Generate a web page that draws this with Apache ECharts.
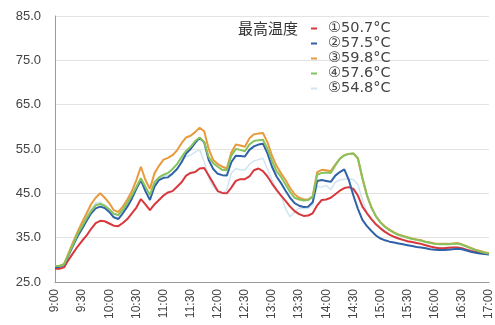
<!DOCTYPE html>
<html><head><meta charset="utf-8">
<script src="https://cdn.jsdelivr.net/npm/echarts@6/dist/echarts.min.js"></script>
<style>html,body{margin:0;padding:0;background:#fff}#c{width:495px;height:325px}</style>
</head><body><div id="c"></div>
<script>
// 5-minute readings from 9:00 to 17:00
const startMinutes = 9 * 60, stepMinutes = 5, pointCount = 97;
const categories = [];
for (let i = 0; i < pointCount; i++) {
  const m = startMinutes + i * stepMinutes;
  categories.push(Math.floor(m / 60) + ':' + String(m % 60).padStart(2, '0'));
}
const seriesNames = ['①50.7°C', '②57.5°C', '③59.8°C', '④57.6°C', '⑤54.8°C'];
const s1 = [28.0,28.0,28.3,30.0,31.5,33.0,34.3,35.5,37.0,38.3,38.8,38.7,38.2,37.7,37.6,38.3,39.2,40.5,41.8,43.7,42.5,41.2,42.5,43.5,44.5,45.2,45.5,46.5,47.5,49.0,49.6,49.8,50.6,50.7,49.0,47.3,45.5,45.1,45.0,46.3,47.8,48.2,48.2,48.8,50.2,50.6,50.0,48.8,47.2,45.8,44.5,43.3,42.0,41.0,40.3,39.9,40.0,40.5,42.3,43.5,43.6,44.0,44.8,45.6,46.2,46.4,46.0,44.5,42.0,40.5,39.2,38.0,37.1,36.3,35.7,35.2,34.8,34.5,34.2,34.0,33.8,33.6,33.3,33.0,32.8,32.6,32.6,32.7,32.8,32.8,32.6,32.3,32.0,31.8,31.6,31.4,31.3];
const s2 = [28.4,28.4,28.8,31.0,33.2,35.3,37.0,38.8,40.5,41.6,42.0,41.7,40.8,39.6,39.2,40.5,42.0,43.8,46.0,48.0,45.5,43.5,46.5,48.0,48.5,48.6,49.5,50.5,52.0,54.0,55.0,56.4,57.5,56.5,52.5,50.5,49.4,49.1,49.0,52.0,53.5,53.4,53.3,54.8,55.6,56.0,56.2,54.0,51.0,48.8,47.3,45.6,44.0,42.8,42.2,41.9,42.0,43.0,47.8,48.0,47.8,47.6,49.0,49.8,50.4,48.0,44.5,41.5,39.0,37.6,36.5,35.5,34.8,34.4,34.1,33.9,33.7,33.5,33.3,33.1,32.9,32.8,32.6,32.4,32.3,32.2,32.2,32.3,32.4,32.5,32.4,32.1,31.8,31.6,31.4,31.3,31.2];
const s3 = [28.6,28.6,29.0,31.5,34.0,36.3,38.5,40.5,42.6,44.0,45.0,44.0,42.8,41.2,40.8,42.0,43.6,45.5,48.0,51.0,48.0,46.0,49.5,51.2,52.6,53.0,53.6,54.7,56.3,57.6,58.0,58.8,59.8,59.0,55.0,52.5,51.6,51.0,50.6,54.2,56.0,55.8,55.5,57.4,58.3,58.5,58.6,56.5,53.5,51.2,49.5,48.0,46.2,44.8,44.0,43.6,43.6,44.3,49.8,50.3,50.2,50.0,51.5,52.8,53.6,53.9,54.0,52.8,48.3,44.5,41.8,39.8,38.5,37.5,36.8,36.2,35.7,35.4,35.1,34.8,34.6,34.4,34.1,33.9,33.7,33.6,33.6,33.6,33.7,33.8,33.5,33.1,32.7,32.3,32.0,31.7,31.5];
const s4 = [28.6,28.6,29.0,31.2,33.5,35.8,37.6,39.4,41.0,42.3,42.6,42.2,41.4,40.4,40.1,41.3,42.8,44.5,46.5,48.4,46.5,44.6,47.5,48.6,49.2,49.6,50.5,51.6,53.2,54.6,55.5,56.8,57.6,56.6,53.2,51.8,51.0,50.3,50.2,53.5,55.0,54.8,54.5,56.0,56.8,57.0,57.1,55.0,52.3,50.0,48.7,47.0,45.3,44.0,43.6,43.4,43.5,44.2,49.2,49.6,49.7,49.6,51.3,52.8,53.6,53.9,54.0,53.0,48.5,44.6,41.8,39.8,38.4,37.4,36.7,36.1,35.6,35.3,35.0,34.7,34.5,34.3,34.0,33.8,33.6,33.5,33.5,33.5,33.6,33.7,33.4,33.0,32.6,32.2,31.9,31.6,31.4];
const s5 = [28.5,28.5,29.0,31.5,34.0,36.0,38.0,39.8,41.5,42.8,43.0,42.3,41.3,40.4,40.1,41.3,42.8,44.5,46.2,47.6,45.8,44.6,46.8,48.3,49.0,49.1,49.2,50.4,52.5,53.3,53.6,54.3,54.8,52.2,48.5,46.5,45.4,44.9,45.8,49.6,50.6,50.3,50.2,51.5,52.3,52.6,52.9,50.5,48.0,46.0,44.5,41.5,39.7,40.8,41.7,41.5,41.6,42.5,46.6,46.4,46.8,45.8,47.5,48.0,48.2,48.3,48.1,47.0,43.5,40.8,39.0,37.8,37.0,36.2,35.6,35.1,34.7,34.4,34.1,33.9,33.7,33.5,33.2,33.0,32.8,32.7,32.7,32.8,32.9,32.9,32.7,32.4,32.1,31.8,31.6,31.4,31.3];
const legendTitle = '最高温度';
const yMin = 25, yMax = 85, yStep = 10;

const colors = ['#d8383c', '#2f62a8', '#e99a3c', '#86c35c', '#cfe5f1'];
const widths = [2, 2, 2, 2, 1.5];
const allData = [s1, s2, s3, s4, s5];

const chart = echarts.init(document.getElementById('c'), null, {renderer: 'canvas'});
chart.setOption({
  animation: false,
  backgroundColor: '#fff',
  textStyle: {fontFamily: 'Liberation Sans'},
  grid: {left: 55, right: 6, top: 16, bottom: 43},
  title: {
    text: legendTitle, left: 238, top: 20, padding: 0,
    textStyle: {fontSize: 15, lineHeight: 16, fontWeight: 'normal', color: '#333', fontFamily: 'Noto Sans CJK JP'}
  },
  legend: {
    orient: 'vertical', left: 311, top: 21, padding: 0,
    itemWidth: 6, itemHeight: 2, itemGap: 0,
    icon: 'rect',
    data: seriesNames,
    textStyle: {fontSize: 14.5, lineHeight: 14.2, color: '#444', fontFamily: 'DejaVu Sans', padding: [0, 0, 0, 6]}
  },
  xAxis: {
    type: 'category', data: categories, boundaryGap: false,
    axisLine: {lineStyle: {color: '#9a9a9a'}},
    axisTick: {show: false},
    axisLabel: {interval: 5, rotate: 90, fontSize: 12, color: '#444', margin: 7},
    splitLine: {show: false}
  },
  yAxis: {
    type: 'value', min: yMin, max: yMax, interval: yStep,
    axisLine: {show: true, lineStyle: {color: '#9a9a9a'}},
    axisTick: {show: false},
    axisLabel: {fontSize: 13, color: '#444', margin: 14, formatter: v => v.toFixed(1)},
    splitLine: {lineStyle: {color: '#e3e3e3'}}
  },
  series: allData.map((d, i) => ({
    name: seriesNames[i], type: 'line', data: d, showSymbol: false, smooth: false,
    lineStyle: {color: colors[i], width: widths[i]}, itemStyle: {color: colors[i]},
    z: i === 4 ? 1 : 2 + i
  }))
});
</script></body></html>
